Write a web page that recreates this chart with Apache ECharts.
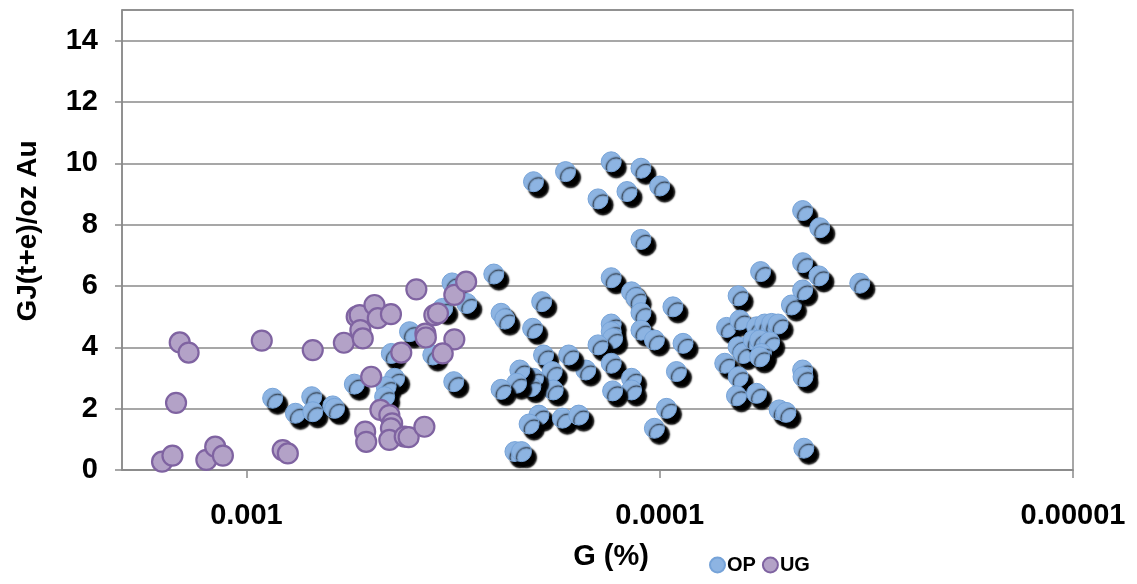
<!DOCTYPE html>
<html>
<head>
<meta charset="utf-8">
<script src="https://cdn.jsdelivr.net/npm/echarts@6/dist/echarts.min.js"></script>
<style>
html,body{margin:0;padding:0;background:#fff;}
#chart{width:1137px;height:584px;}
</style>
</head>
<body>
<div id="chart"></div>
<script>
// ---- Data (G in %, energy GJ(t+e)/oz Au) ----
const opG = [0.000202,0.000169,0.000131,0.000111,0.000100,0.000141,0.000120,0.000111,0.000252,0.000131,
  0.0000570,0.000318,0.000193,0.000117,0.000114,0.000111,0.0000929,0.0000646,0.000242,0.000237,
  0.000203,0.000131,0.000131,0.000130,0.000111,0.000103,0.000141,0.0000878,0.0000689,0.0000640,
  0.0000646,0.0000628,0.0000583,0.0000557,0.0000536,0.0000517,0.0000594,0.0000573,0.0000542,0.0000567,
  0.0000573,0.0000696,0.0000646,0.0000652,0.0000583,0.0000514,0.0000495,0.0000451,0.0000450,0.0000448,
  0.0000480,0.0000451,0.0000451,0.0000412,0.0000328,0.0000451,0.0000410,0.0000911,0.0000963,0.000103,
  0.000131,0.000117,0.000117,0.000130,0.000151,0.000166,0.000191,0.000182,0.000181,0.000202,
  0.000205,0.000218,0.000222,0.000242,0.000196,0.000207,0.000172,0.000157,0.000224,0.000216,
  0.000315,0.000354,0.000403,0.000446,0.000438,0.000459,0.000463,0.000335,0.000293,0.000864,
  0.000761,0.000695,0.000691,0.000618,0.000612,0.000548];
const opE = [9.40,9.73,10.05,9.84,9.26,8.84,9.08,7.52,6.39,6.27,
  6.47,6.10,5.49,5.81,5.60,5.13,5.32,5.68,5.11,4.92,
  4.62,4.76,4.51,4.29,4.56,4.24,4.08,4.13,4.65,4.89,
  4.02,3.80,4.67,4.76,4.78,4.76,4.24,4.24,4.18,3.80,
  3.69,3.48,3.04,2.42,2.50,1.96,1.88,3.26,3.04,0.71,
  5.38,5.87,6.76,6.33,6.09,8.46,7.90,3.21,2.01,1.36,
  3.48,2.99,2.61,2.58,3.26,3.75,3.75,3.21,2.61,2.99,
  2.72,3.26,2.83,2.63,1.79,1.50,1.69,1.79,0.60,0.60,
  2.88,3.75,4.51,3.80,2.99,2.72,2.39,5.27,5.43,2.34,
  1.85,2.39,1.90,2.09,2.01,2.80];
const ugG = [0.00160,0.00151,0.00145,0.00138,0.00148,0.00125,0.00119,0.00114,0.000918,0.000817,
  0.000794,0.000691,0.000581,0.000541,0.000532,0.000490,0.000481,0.000447,0.000530,0.000523,
  0.000499,0.000474,0.000451,0.000444,0.000447,0.000516,0.000513,0.000451,0.000414,0.000405,
  0.000371,0.000388,0.000422,0.000369,0.000368,0.000351,0.000344,0.000314,0.000314,0.000335,
  0.000294];
const ugE = [0.27,0.47,4.16,3.83,2.19,0.33,0.76,0.47,4.22,0.65,
  0.54,3.91,4.15,5.00,5.05,5.38,4.95,5.08,4.56,4.29,
  3.04,1.96,1.79,1.52,1.36,1.25,0.92,0.98,1.09,1.07,
  1.41,5.89,3.83,4.45,4.32,5.05,5.11,5.71,4.26,3.80,
  6.14];
const xTickValues = [0.001, 0.0001, 0.00001];
const xTickLabels = ['0.001', '0.0001', '0.00001'];
const seriesNames = ['OP', 'UG'];

const zip = (a, b) => a.map((v, i) => [v, b[i]]);
const FONT = '"Liberation Sans", Arial, Helvetica, sans-serif';

const chart = echarts.init(document.getElementById('chart'));
chart.setOption({
  animation: false,
  backgroundColor: '#fff',
  grid: {left: 122, right: 64, top: 10, bottom: 114, show: true, borderColor: '#8a8a8a', borderWidth: 1.5},
  legend: {
    left: 709, top: 555, padding: 0, itemGap: 6, itemWidth: 15, itemHeight: 15,
    icon: 'circle',
    textStyle: {fontFamily: FONT, fontWeight: 'bold', fontSize: 20, color: '#000', padding: [3, 0, 0, -3]},
    data: seriesNames
  },
  xAxis: {
    type: 'log', logBase: 10, inverse: true, min: 0.00001, max: 0.002,
    axisLine: {show: true, lineStyle: {color: '#8a8a8a', width: 1.5}},
    axisTick: {show: true, length: 8, lineStyle: {color: '#8a8a8a', width: 1.5}},
    splitLine: {show: false},
    axisLabel: {
      showMaxLabel: false, margin: 31,
      fontFamily: FONT, fontWeight: 'bold', fontSize: 29, color: '#000',
      formatter: function (v) {
        let best = 0, bd = Infinity;
        xTickValues.forEach((t, i) => { const d = Math.abs(Math.log10(t) - Math.log10(v)); if (d < bd) { bd = d; best = i; } });
        return bd < 0.01 ? xTickLabels[best] : '';
      }
    }
  },
  yAxis: {
    type: 'value', min: 0, max: 15, interval: 2,
    axisLine: {show: true, lineStyle: {color: '#8a8a8a', width: 1.5}},
    axisTick: {show: true, length: 7, lineStyle: {color: '#8a8a8a', width: 1.5}},
    splitLine: {show: true, lineStyle: {color: '#8a8a8a', width: 1.5}},
    axisLabel: {showMaxLabel: false, margin: 24, fontFamily: FONT, fontWeight: 'bold', fontSize: 29, color: '#000'}
  },
  graphic: [
    {type: 'text', x: 28, y: 231, rotation: Math.PI / 2,
     style: {text: 'GJ(t+e)/oz Au', fontFamily: FONT, fontWeight: 'bold', fontSize: 28, fill: '#000', align: 'center', verticalAlign: 'middle'}},
    {type: 'text', x: 611, y: 557,
     style: {text: 'G (%)', fontFamily: FONT, fontWeight: 'bold', fontSize: 29, fill: '#000', align: 'center', verticalAlign: 'middle'}}
  ],
  series: [
    {
      name: seriesNames[0], type: 'scatter', symbol: 'circle', symbolSize: 20,
      data: zip(opG, opE),
      itemStyle: {color: '#8db4e2', borderColor: '#76a3d8', borderWidth: 1, opacity: 1,
        shadowColor: '#000', shadowBlur: 1.5, shadowOffsetX: 5, shadowOffsetY: 6},
      emphasis: {disabled: true}
    },
    {
      name: seriesNames[1], type: 'scatter', symbol: 'circle', symbolSize: 20,
      data: zip(ugG, ugE),
      itemStyle: {color: '#b3a2c7', borderColor: '#7f63a1', borderWidth: 2.2, opacity: 1},
      emphasis: {disabled: true}
    }
  ]
});
</script>
</body>
</html>
